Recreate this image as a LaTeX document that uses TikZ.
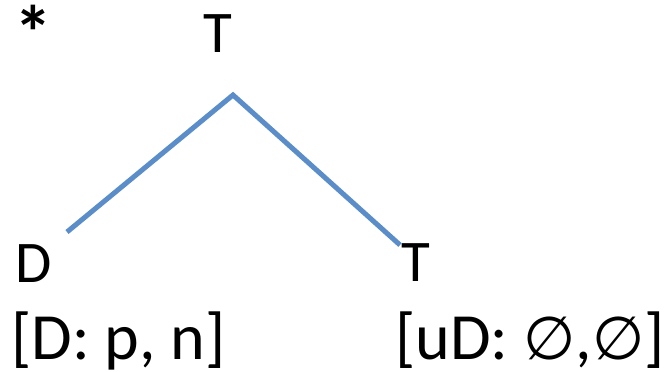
\documentclass[tikz,border=0pt]{standalone}
\usepackage{fontspec}
\setmainfont{Carlito}
\newfontfamily\symfont{DejaVu Sans}
\begin{document}
\begin{tikzpicture}[x=1pt,y=1pt,
  lbl/.style={inner sep=0pt,anchor=base west,font=\fontsize{59}{60}\selectfont},
  feat/.style={inner sep=0pt,anchor=base west,font=\fontsize{66}{68}\selectfont},
  branch/.style={draw={rgb,255:red,91;green,141;blue,200},line width=5pt}]
\useasboundingbox (0,0) rectangle (667,372);
\node[lbl,font=\fontsize{76}{78}\selectfont\bfseries,anchor=north west] (star) at (14,367) {*};
\node[lbl] (topT) at (203,319) {T};
\node[lbl] (D) at (15,89) {D};
\node[lbl] (rT) at (401,90) {T};
\node[feat] (Dfeat) at (11,12) {[D: p, n]};
\node[feat] (Tfeat) at (395,12) {[uD: {\symfont\fontsize{60}{62}\selectfont ∅},{\symfont\fontsize{60}{62}\selectfont ∅}]};
\coordinate (apex) at (233,277);
\coordinate (lend) at (67,140);
\coordinate (rend) at (400,127);
\draw[branch] (lend) -- (apex) -- (rend);
\end{tikzpicture}
\end{document}
